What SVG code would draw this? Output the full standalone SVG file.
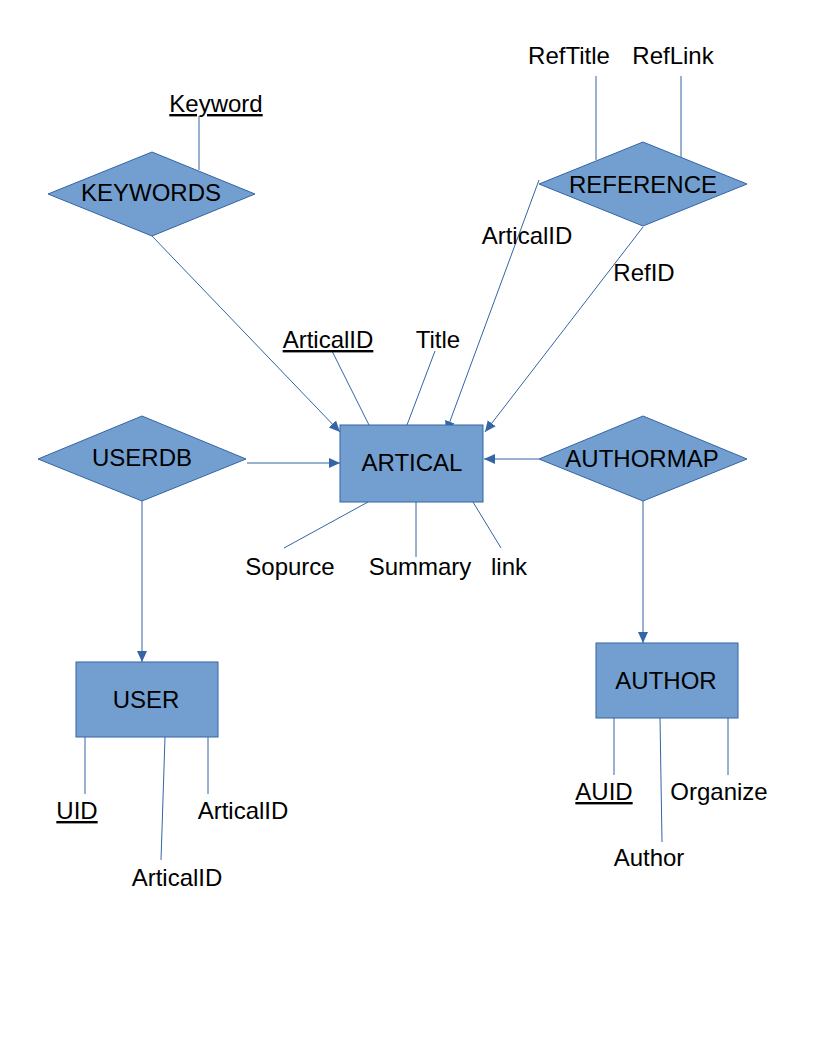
<svg xmlns="http://www.w3.org/2000/svg" width="816" height="1056" viewBox="0 0 816 1056">
<defs>
<style>
.shape{fill:#729fcf;stroke:#3465a4;stroke-width:1}
.ln{stroke:#3465a4;stroke-width:1;fill:none}
.t{font-family:"Liberation Sans",Arial,sans-serif;font-size:24px;fill:#000;text-anchor:middle}
.u{text-decoration:underline}
</style>
<marker id="arr" markerUnits="userSpaceOnUse" markerWidth="12" markerHeight="12" viewBox="0 0 12 12" refX="11" refY="6" orient="auto">
<path d="M0,1 L11,6 L0,11 Z" fill="#3465a4"/>
</marker>
</defs>
<rect width="816" height="1056" fill="#fff"/>
<g id="connectors">
<line class="ln" x1="199" y1="116" x2="199" y2="170"/>
<line class="ln" x1="152" y1="236" x2="340" y2="432" marker-end="url(#arr)"/>
<line class="ln" x1="596" y1="76" x2="596" y2="160"/>
<line class="ln" x1="681" y1="76" x2="681" y2="159"/>
<line class="ln" x1="539" y1="180" x2="446" y2="432" marker-end="url(#arr)"/>
<line class="ln" x1="643" y1="227" x2="485" y2="432" marker-end="url(#arr)"/>
<line class="ln" x1="332" y1="351" x2="369" y2="425"/>
<line class="ln" x1="435" y1="351" x2="407" y2="425"/>
<line class="ln" x1="368" y1="502" x2="284" y2="548"/>
<line class="ln" x1="416" y1="502" x2="416" y2="557"/>
<line class="ln" x1="473" y1="502" x2="501" y2="548"/>
<line class="ln" x1="247" y1="463" x2="340" y2="463" marker-end="url(#arr)"/>
<line class="ln" x1="539" y1="459" x2="484" y2="459" marker-end="url(#arr)"/>
<line class="ln" x1="142" y1="501" x2="142" y2="662" marker-end="url(#arr)"/>
<line class="ln" x1="643" y1="501" x2="643" y2="643" marker-end="url(#arr)"/>
<line class="ln" x1="85" y1="737" x2="85" y2="794"/>
<line class="ln" x1="165" y1="737" x2="161" y2="860"/>
<line class="ln" x1="208" y1="737" x2="208" y2="794"/>
<line class="ln" x1="614" y1="718" x2="614" y2="775"/>
<line class="ln" x1="660" y1="718" x2="662" y2="842"/>
<line class="ln" x1="728" y1="718" x2="728" y2="775"/>
</g>
<g id="keywords">
<polygon class="shape" points="48,194 152,152 255,194 152,236"/>
<text class="t" x="151" y="201">KEYWORDS</text>
</g>
<g id="reference">
<polygon class="shape" points="539,184 643,142 747,184 643,226"/>
<text class="t" x="643" y="193">REFERENCE</text>
</g>
<g id="artical">
<rect class="shape" x="340" y="425" width="143" height="77"/>
<text class="t" x="412" y="471">ARTICAL</text>
</g>
<g id="userdb">
<polygon class="shape" points="38,459 142,416 246,459 142,501"/>
<text class="t" x="142" y="466">USERDB</text>
</g>
<g id="authormap">
<polygon class="shape" points="539,459 643,416 747,459 643,501"/>
<text class="t" x="642" y="467">AUTHORMAP</text>
</g>
<g id="user">
<rect class="shape" x="76" y="662" width="142" height="75"/>
<text class="t" x="146" y="708">USER</text>
</g>
<g id="author">
<rect class="shape" x="596" y="643" width="142" height="75"/>
<text class="t" x="666" y="689">AUTHOR</text>
</g>
<g id="labels">
<text class="t u" x="216" y="112">Keyword</text>
<text class="t" x="569" y="64">RefTitle</text>
<text class="t" x="673" y="64">RefLink</text>
<text class="t" x="527" y="244">ArticalID</text>
<text class="t" x="644" y="281">RefID</text>
<text class="t u" x="328" y="348">ArticalID</text>
<text class="t" x="438" y="348">Title</text>
<text class="t" x="290" y="575">Sopurce</text>
<text class="t" x="420" y="575">Summary</text>
<text class="t" x="509" y="575">link</text>
<text class="t u" x="77" y="819">UID</text>
<text class="t" x="243" y="819">ArticalID</text>
<text class="t" x="177" y="886">ArticalID</text>
<text class="t u" x="604" y="800">AUID</text>
<text class="t" x="719" y="800">Organize</text>
<text class="t" x="649" y="866">Author</text>
</g>
</svg>
